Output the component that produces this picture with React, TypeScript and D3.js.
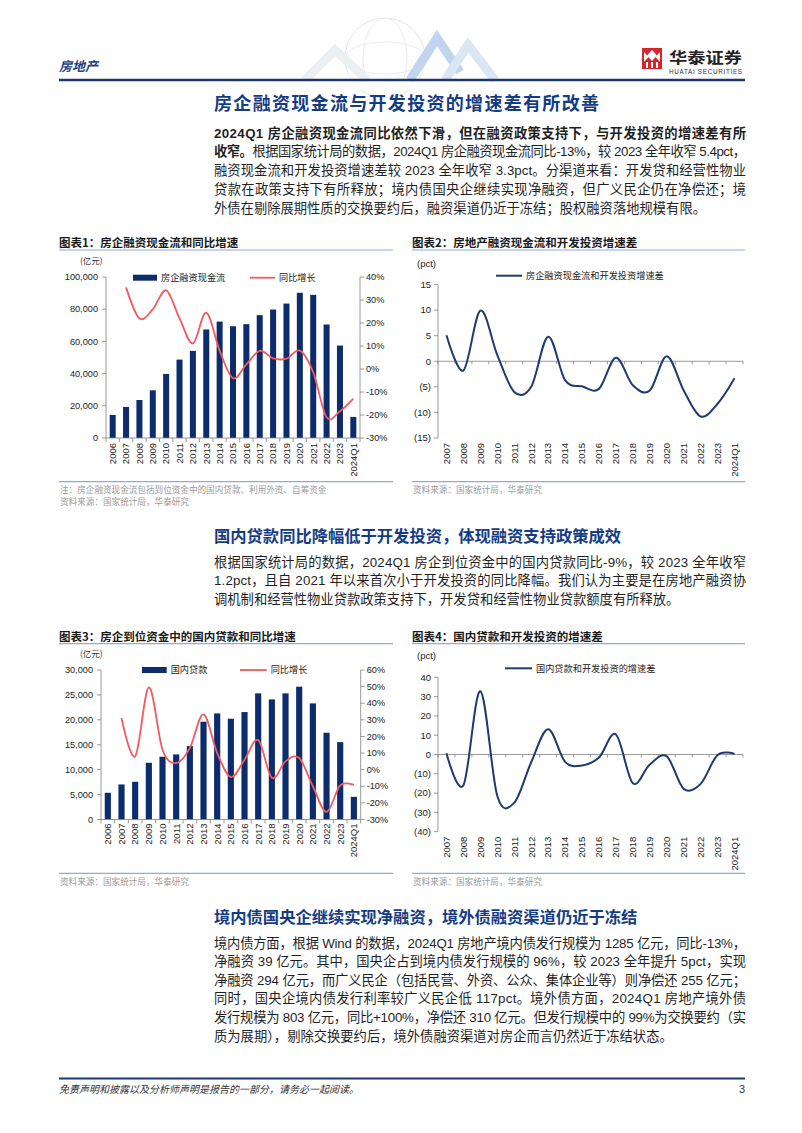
import React from 'react';
import * as d3 from 'd3';

// ---------------- DATA ----------------
const years1 = ['2006','2007','2008','2009','2010','2011','2012','2013','2014','2015','2016','2017','2018','2019','2020','2021','2022','2023','2024Q1'];
const years2 = ['2007','2008','2009','2010','2011','2012','2013','2014','2015','2016','2017','2018','2019','2020','2021','2022','2023','2024Q1'];

// Chart 1: 房企融资现金流 (亿元) and 同比增长 (%)
const financingCashFlow = [14300,19300,23600,29600,39800,48700,54100,67400,72300,69400,70700,76300,79800,83500,90200,88900,70500,57400,13100];
const financingYoY: (number|null)[] = [null,35.5,22.0,26.0,34.2,22.0,11.1,24.5,8.0,-4.0,2.0,7.9,4.6,4.5,8.0,-1.4,-21.0,-18.4,-12.9];

// Chart 2: 房企融资现金流和开发投资增速差 (pct)
const financingGap = [5.1,-1.8,9.9,1.2,-6.0,-5.0,4.8,-3.7,-4.9,-5.4,0.7,-4.7,-5.7,1.0,-5.7,-10.8,-8.3,-3.3];

// Chart 3: 国内贷款 (亿元) and 同比增长 (%)
const domesticLoans = [5360,7030,7570,11380,12590,13060,14730,19620,21290,20220,21560,25310,24100,25310,26650,23300,17410,15530,4550];
const domesticLoansYoY: (number|null)[] = [null,31.0,8.0,49.5,12.0,4.0,13.0,33.3,10.0,-4.5,6.0,17.8,-4.9,5.0,7.0,-10.0,-25.4,-9.5,-9.2];

// Chart 4: 国内贷款和开发投资的增速差 (pct)
const loansGap = [0.7,-16.0,32.8,-21.5,-25.0,-4.0,13.1,-3.8,-5.7,-1.6,10.4,-14.9,-5.2,-1.0,-17.8,-15.2,-0.2,0.3];

// Tick labels
const ticksLeft1 = [0,20000,40000,60000,80000,100000];
const ticksRight1 = [-30,-20,-10,0,10,20,30,40];
const ticksGap1 = [-15,-10,-5,0,5,10,15];
const ticksLeft3 = [0,5000,10000,15000,20000,25000,30000];
const ticksRight3 = [-30,-20,-10,0,10,20,30,40,50,60];
const ticksGap2 = [-40,-30,-20,-10,0,10,20,30,40];

// ---------------- STYLE ----------------
const SANS = "'Liberation Sans', Arial, 'Noto Sans CJK SC', sans-serif";
const CJK = "'Noto Sans CJK SC', 'Liberation Sans', sans-serif";
const NAVY = '#0c2c6c';
const RED = '#f25a5e';
const AXIS = '#808080';
const SEP = '#8eaadb';
const TITLE_BLUE = '#143c84';
const TEXT = '#1f1f1f';

const fmtComma = d3.format(',');
const fmtPct = (d: number) => `${d}%`;
const fmtParen = (d: number) => (d < 0 ? `(${-d})` : `${d}`);

type Seg = { t: string; b?: boolean };

const para1: Seg[][] = [
  [{ t: '2024Q1 房企融资现金流同比依然下滑，但在融资政策支持下，与开发投资的增速差有所', b: true }],
  [{ t: '收窄。', b: true }, { t: '根据国家统计局的数据，2024Q1 房企融资现金流同比-13%，较 2023 全年收窄 5.4pct，' }],
  [{ t: '融资现金流和开发投资增速差较 2023 全年收窄 3.3pct。分渠道来看：开发贷和经营性物业' }],
  [{ t: '贷款在政策支持下有所释放；境内债国央企继续实现净融资，但广义民企仍在净偿还；境' }],
  [{ t: '外债在剔除展期性质的交换要约后，融资渠道仍近于冻结；股权融资落地规模有限。' }],
];
const para2: Seg[][] = [
  [{ t: '根据国家统计局的数据，2024Q1 房企到位资金中的国内贷款同比-9%，较 2023 全年收窄' }],
  [{ t: '1.2pct，且自 2021 年以来首次小于开发投资的同比降幅。我们认为主要是在房地产融资协' }],
  [{ t: '调机制和经营性物业贷款政策支持下，开发贷和经营性物业贷款额度有所释放。' }],
];
const para3: Seg[][] = [
  [{ t: '境内债方面，根据 Wind 的数据，2024Q1 房地产境内债发行规模为 1285 亿元，同比-13%，' }],
  [{ t: '净融资 39 亿元。其中，国央企占到境内债发行规模的 96%，较 2023 全年提升 5pct，实现' }],
  [{ t: '净融资 294 亿元，而广义民企（包括民营、外资、公众、集体企业等）则净偿还 255 亿元；' }],
  [{ t: '同时，国央企境内债发行利率较广义民企低 117pct。境外债方面，2024Q1 房地产境外债' }],
  [{ t: '发行规模为 803 亿元，同比+100%，净偿还 310 亿元。但发行规模中的 99%为交换要约（实' }],
  [{ t: '质为展期），剔除交换要约后，境外债融资渠道对房企而言仍然近于冻结状态。' }],
];

function Paragraph({ x, y, step, width, lines }: { x: number; y: number; step: number; width: number; lines: Seg[][] }) {
  return (
    <g fontFamily={SANS} fontSize={13.3} fill={TEXT}>
      {lines.map((segs, i) => {
        const last = i === lines.length - 1;
        return (
          <text key={i} x={x} y={y + i * step} {...(last ? {} : { textLength: width, lengthAdjust: 'spacing' })}>
            {segs.map((s, j) => (
              <tspan key={j} fontWeight={s.b ? 700 : 400}>{s.t}</tspan>
            ))}
          </text>
        );
      })}
    </g>
  );
}

function SectionTitle({ x, y, text, size, len }: { x: number; y: number; text: string; size: number; len?: number }) {
  return (
    <text x={x} y={y} fontFamily={CJK} fontSize={size} fontWeight={700} fill={TITLE_BLUE}
      {...(len ? { textLength: len, lengthAdjust: 'spacing' } : {})}>{text}</text>
  );
}

function ChartFrame({ x0, x1, titleY, title, sepY, notes }: { x0: number; x1: number; titleY: number; title: string; sepY: number; notes: string[] }) {
  return (
    <g>
      <text x={x0} y={titleY + 4} fontFamily={CJK} fontSize={11.5} fontWeight={700} fill="#1a1a1a">{title}</text>
      <line x1={x0} x2={x1} y1={titleY + 7} y2={titleY + 7} stroke={SEP} strokeWidth={1.2} />
      <line x1={x0} x2={x1} y1={sepY} y2={sepY} stroke={SEP} strokeWidth={1.3} />
      {notes.map((n, i) => (
        <text key={i} x={x0 + 1} y={sepY + 11.5 + i * 12} fontFamily={CJK} fontSize={8.6} fill="#9a9a9a">{n}</text>
      ))}
    </g>
  );
}

type ComboProps = {
  x0: number; x1: number; yTop: number; yBot: number;
  cats: string[]; bars: number[]; yoy: (number | null)[];
  leftTicks: number[]; rightTicks: number[];
  labelTop: number; unitPos: [number, number];
  legendY: number; barLegend: [number, number, string]; lineLegend: [number, number, string];
};

function Combo(p: ComboProps) {
  const xb = d3.scaleBand<string>().domain(p.cats).range([p.x0, p.x1]).paddingInner(0.55).paddingOuter(0.275);
  const step = xb.step();
  const cx = (c: string) => (xb(c) as number) + xb.bandwidth() / 2;
  const yl = d3.scaleLinear().domain([p.leftTicks[0], p.leftTicks[p.leftTicks.length - 1]]).range([p.yBot, p.yTop]);
  const yr = d3.scaleLinear().domain([p.rightTicks[0], p.rightTicks[p.rightTicks.length - 1]]).range([p.yBot, p.yTop]);
  const pts = p.cats.map((c, i) => [c, p.yoy[i]] as [string, number | null]);
  const line = d3.line<[string, number | null]>()
    .defined(d => d[1] != null)
    .x(d => cx(d[0]))
    .y(d => yr(d[1] as number))
    .curve(d3.curveCardinal.tension(0));
  const boundaries = d3.range(p.cats.length + 1).map(i => p.x0 + i * step);
  return (
    <g fontFamily={SANS}>
      <text x={p.unitPos[0]} y={p.unitPos[1] + 3} fontFamily={CJK} fontSize={8.5} fill="#333">(亿元)</text>
      {p.cats.map((c, i) => (
        <rect key={c} x={xb(c)} y={yl(p.bars[i])} width={xb.bandwidth()} height={p.yBot - yl(p.bars[i])} fill={NAVY} />
      ))}
      <line x1={p.x0} x2={p.x0} y1={p.yTop} y2={p.yBot} stroke={AXIS} strokeWidth={0.8} />
      <line x1={p.x1} x2={p.x1} y1={p.yTop} y2={p.yBot} stroke={AXIS} strokeWidth={0.8} />
      <line x1={p.x0} x2={p.x1} y1={p.yBot} y2={p.yBot} stroke={AXIS} strokeWidth={0.8} />
      {boundaries.map((b, i) => (
        <line key={i} x1={b} x2={b} y1={p.yBot} y2={p.yBot + 4} stroke={AXIS} strokeWidth={0.8} />
      ))}
      {p.leftTicks.map(t => (
        <g key={t}>
          <line x1={p.x0 - 4} x2={p.x0} y1={yl(t)} y2={yl(t)} stroke={AXIS} strokeWidth={0.8} />
          <text x={p.x0 - 8} y={yl(t)} dy="0.35em" textAnchor="end" fontSize={9.2} fill="#222">{fmtComma(t)}</text>
        </g>
      ))}
      {p.rightTicks.map(t => (
        <g key={t}>
          <line x1={p.x1} x2={p.x1 + 4} y1={yr(t)} y2={yr(t)} stroke={AXIS} strokeWidth={0.8} />
          <text x={p.x1 + 6} y={yr(t)} dy="0.35em" textAnchor="start" fontSize={9.2} fill="#222">{fmtPct(t)}</text>
        </g>
      ))}
      {p.cats.map(c => (
        <text key={c} transform={`translate(${cx(c)},${p.labelTop}) rotate(-90)`} textAnchor="end" dy="0.35em" fontSize={9.5} fill="#222">{c}</text>
      ))}
      <path d={line(pts) || ''} fill="none" stroke={RED} strokeWidth={1.8} />
      <rect x={p.barLegend[0]} y={p.legendY - 3} width={p.barLegend[1] - p.barLegend[0]} height={6} fill={NAVY} />
      <text x={p.barLegend[1] + 4} y={p.legendY} dy="0.35em" fontFamily={CJK} fontSize={9.2} fill="#222">{p.barLegend[2]}</text>
      <line x1={p.lineLegend[0]} x2={p.lineLegend[1]} y1={p.legendY} y2={p.legendY} stroke={RED} strokeWidth={1.8} />
      <text x={p.lineLegend[1] + 4} y={p.legendY} dy="0.35em" fontFamily={CJK} fontSize={9.2} fill="#222">{p.lineLegend[2]}</text>
    </g>
  );
}

type GapProps = {
  x0: number; x1: number; yTop: number; yBot: number;
  cats: string[]; values: number[]; ticks: number[];
  labelTop: number; unitPos: [number, number];
  legendY: number; legend: [number, number, string];
};

function GapChart(p: GapProps) {
  const xp = d3.scalePoint<string>().domain(p.cats).range([p.x0, p.x1]).padding(0.5);
  const step = xp.step();
  const y = d3.scaleLinear().domain([p.ticks[0], p.ticks[p.ticks.length - 1]]).range([p.yBot, p.yTop]);
  const pts = p.cats.map((c, i) => [c, p.values[i]] as [string, number]);
  const line = d3.line<[string, number]>()
    .x(d => xp(d[0]) as number)
    .y(d => y(d[1]))
    .curve(d3.curveCardinal.tension(0));
  const boundaries = d3.range(p.cats.length + 1).map(i => p.x0 + i * step);
  return (
    <g fontFamily={SANS}>
      <text x={p.unitPos[0]} y={p.unitPos[1]} dy="0.35em" fontSize={9.5} fill="#222">(pct)</text>
      <line x1={p.x0} x2={p.x0} y1={p.yTop} y2={p.yBot} stroke={AXIS} strokeWidth={0.8} />
      <line x1={p.x0} x2={p.x1} y1={y(0)} y2={y(0)} stroke={AXIS} strokeWidth={0.8} />
      {boundaries.map((b, i) => (
        <line key={i} x1={b} x2={b} y1={y(0)} y2={y(0) + 3} stroke={AXIS} strokeWidth={0.8} />
      ))}
      {p.ticks.map(t => (
        <g key={t}>
          <line x1={p.x0 - 4} x2={p.x0} y1={y(t)} y2={y(t)} stroke={AXIS} strokeWidth={0.8} />
          <text x={p.x0 - 7} y={y(t)} dy="0.35em" textAnchor="end" fontSize={9.5} fill="#222">{fmtParen(t)}</text>
        </g>
      ))}
      {p.cats.map(c => (
        <text key={c} transform={`translate(${xp(c)},${p.labelTop}) rotate(-90)`} textAnchor="end" dy="0.35em" fontSize={9.5} fill="#222">{c}</text>
      ))}
      <path d={line(pts) || ''} fill="none" stroke="#1e3a70" strokeWidth={2} />
      <line x1={p.legend[0]} x2={p.legend[1]} y1={p.legendY} y2={p.legendY} stroke="#1e3a70" strokeWidth={2} />
      <text x={p.legend[1] + 4} y={p.legendY} dy="0.35em" fontFamily={CJK} fontSize={9.2} fill="#222">{p.legend[2]}</text>
    </g>
  );
}

function Header() {
  return (
    <g>
      <g opacity={0.55}>
        <circle cx={385} cy={58} r={40} fill="none" stroke="#c9d2de" strokeWidth={1} />
        <ellipse cx={385} cy={58} rx={22} ry={40} fill="none" stroke="#d3dbe6" strokeWidth={1} />
        <ellipse cx={385} cy={58} rx={40} ry={16} fill="none" stroke="#d3dbe6" strokeWidth={1} />
        <path d="M305 80 L335 50 L367 80" fill="none" stroke="#dfe4ea" strokeWidth={9} />
        <path d="M410 80 L437 38 L460 72" fill="none" stroke="#8fb4e2" strokeWidth={9} />
        <path d="M445 80 L468 45 L495 80" fill="none" stroke="#bdd2ec" strokeWidth={9} />
      </g>
      <rect x={0} y={81.5} width={802} height={8} fill="#fff" />
      <text x={59} y={71} fontFamily={CJK} fontSize={13} fontWeight={700} fontStyle="italic" fill="#1f3f7f">房地产</text>
      <line x1={59} x2={745} y1={80} y2={80} stroke="#1d3768" strokeWidth={2.7} />
      <rect x={642} y={48} width={20} height={21} fill="#d7262b" />
      <path d="M652 50 L657 55.5 L652 61 L647 55.5 Z" fill="#fff" />
      <path d="M644 52 L648.5 57 L644 62 Z" fill="#fff" />
      <path d="M660 52 L655.5 57 L660 62 Z" fill="#fff" />
      <rect x={646} y={62} width={2} height={6} fill="#fff" />
      <rect x={651} y={62} width={2} height={6} fill="#fff" />
      <rect x={656} y={62} width={2} height={6} fill="#fff" />
      <text x={669} y={63} fontFamily={CJK} fontSize={15} fontWeight={700} textLength={73} lengthAdjust="spacingAndGlyphs" fill="#222">华泰证券</text>
      <text x={669} y={74} fontFamily={SANS} fontSize={6.3} textLength={73} fill="#333">HUATAI SECURITIES</text>
    </g>
  );
}

export default function App() {
  return (
    <svg width={802} height={1133} xmlns="http://www.w3.org/2000/svg" style={{ position: 'absolute', left: 0, top: 0, background: '#fff' }}>
      <rect width={802} height={1133} fill="#fff" />
      <Header />

      <SectionTitle x={214} y={110} size={18} len={385} text="房企融资现金流与开发投资的增速差有所改善" />
      <Paragraph x={214} y={137.5} step={18.8} width={532} lines={para1} />

      <ChartFrame x0={59} x1={393} titleY={243} title="图表1：房企融资现金流和同比增速" sepY={481.7}
        notes={['注：房企融资现金流包括到位资金中的国内贷款、利用外资、自筹资金', '资料来源：国家统计局，华泰研究']} />
      <Combo x0={106} x1={360} yTop={277} yBot={438} cats={years1} bars={financingCashFlow} yoy={financingYoY}
        leftTicks={ticksLeft1} rightTicks={ticksRight1} labelTop={443} unitPos={[80, 260.7]}
        legendY={277.7} barLegend={[133, 157, '房企融资现金流']} lineLegend={[250, 275, '同比增长']} />

      <ChartFrame x0={412} x1={745} titleY={243} title="图表2：房地产融资现金流和开发投资增速差" sepY={481.7}
        notes={['资料来源：国家统计局，华泰研究']} />
      <GapChart x0={438} x1={743} yTop={284.5} yBot={438} cats={years2} values={financingGap} ticks={ticksGap1}
        labelTop={443} unitPos={[417, 263.3]} legendY={275.7} legend={[496, 522, '房企融资现金流和开发投资增速差']} />

      <SectionTitle x={214} y={542.3} size={16.3} text="国内贷款同比降幅低于开发投资，体现融资支持政策成效" />
      <Paragraph x={214} y={566.5} step={18.8} width={532} lines={para2} />

      <ChartFrame x0={59} x1={393} titleY={636.7} title="图表3：房企到位资金中的国内贷款和同比增速" sepY={873.3}
        notes={['资料来源：国家统计局，华泰研究']} />
      <Combo x0={101} x1={360.7} yTop={670} yBot={819.5} cats={years1} bars={domesticLoans} yoy={domesticLoansYoY}
        leftTicks={ticksLeft3} rightTicks={ticksRight3} labelTop={823.5} unitPos={[80, 654]}
        legendY={670} barLegend={[142, 166.7, '国内贷款']} lineLegend={[240, 266.7, '同比增长']} />

      <ChartFrame x0={412} x1={745} titleY={636.7} title="图表4：国内贷款和开发投资的增速差" sepY={873.3}
        notes={['资料来源：国家统计局，华泰研究']} />
      <GapChart x0={438} x1={743} yTop={677.3} yBot={831.7} cats={years2} values={loansGap} ticks={ticksGap2}
        labelTop={836.7} unitPos={[417, 656]} legendY={668.3} legend={[505, 532, '国内贷款和开发投资的增速差']} />

      <SectionTitle x={214} y={922.5} size={16.3} text="境内债国央企继续实现净融资，境外债融资渠道仍近于冻结" />
      <Paragraph x={214} y={947.5} step={18.6} width={532} lines={para3} />

      <line x1={59} x2={745} y1={1078.5} y2={1078.5} stroke="#1d3768" strokeWidth={2} />
      <text x={59} y={1093} fontFamily={CJK} fontSize={10} fontStyle="italic" fill="#333">免责声明和披露以及分析师声明是报告的一部分，请务必一起阅读。</text>
      <text x={745} y={1093} textAnchor="end" fontFamily={SANS} fontSize={11} fill="#333">3</text>
    </svg>
  );
}
